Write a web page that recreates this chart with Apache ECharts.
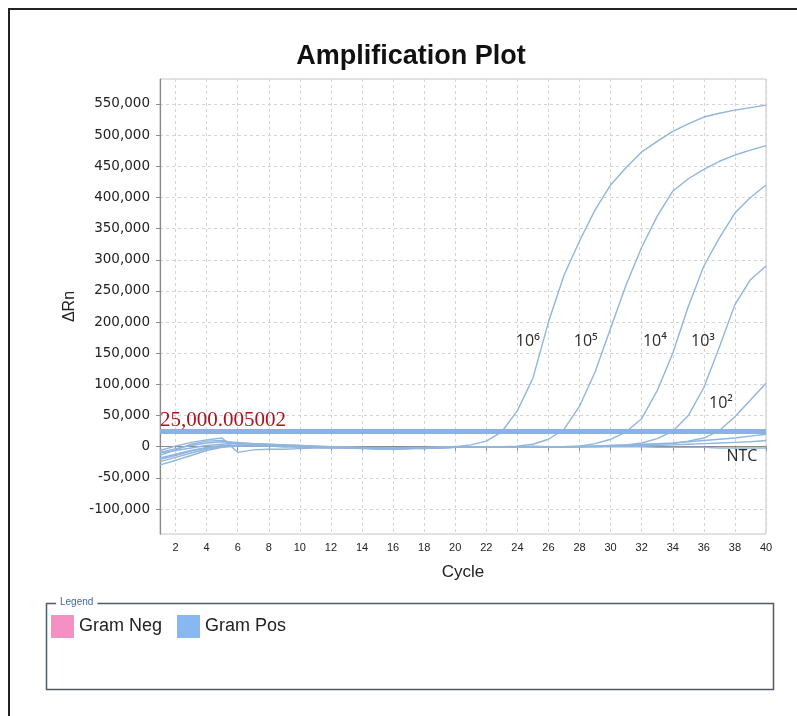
<!DOCTYPE html>
<html>
<head>
<meta charset="utf-8">
<script src="https://cdn.jsdelivr.net/npm/echarts@6/dist/echarts.min.js"></script>
<style>
  html, body { margin: 0; padding: 0; background: #fff; }
  #chart { width: 797px; height: 716px; }
</style>
</head>
<body>
<div id="chart"></div>
<script>
// Cycle numbers (x) and axis tick values
const cycles = [1,2,3,4,5,6,7,8,9,10,11,12,13,14,15,16,17,18,19,20,21,22,23,24,25,26,27,28,29,30,31,32,33,34,35,36,37,38,39,40];
const cycleTicks = [2,4,6,8,10,12,14,16,18,20,22,24,26,28,30,32,34,36,38,40];
const rnTicks = [-100000,-50000,0,50000,100000,150000,200000,250000,300000,350000,400000,450000,500000,550000];

// Delta Rn per cycle for each template dilution
const dil1e6 = [-18000,-12000,-6000,-1000,2000,3000,3000,2000,1000,0,-1000,-1000,-2000,-2000,-3000,-3000,-2000,-3000,-1000,0,3000,9000,24000,58000,110000,200000,275000,330000,380000,420000,448000,473000,490000,506000,518000,529000,535000,540000,544000,548000];
const dil1e5 = [-24000,-17000,-10000,-4000,0,2000,2000,1000,0,0,-1000,-2000,-2000,-3000,-4000,-4000,-3000,-3000,-2000,-1000,-1000,-1000,0,1000,4000,12000,28000,65000,120000,190000,260000,320000,370000,410000,430000,445000,458000,468000,476000,483000];
const dil1e4 = [-29000,-22000,-14000,-6000,-1000,1000,2000,1000,1000,0,0,-1000,-1000,-2000,-3000,-4000,-3000,-2000,-1000,-1000,0,0,0,0,0,-1000,0,1000,5000,12000,24000,45000,90000,150000,225000,290000,335000,375000,400000,420000];
const dil1e3 = [-14000,-5000,4000,9000,10000,5000,4000,3000,2000,1000,0,-1000,-1000,-2000,-2000,-3000,-3000,-2000,-2000,-1000,-1000,0,0,0,1000,0,0,1000,1000,2000,3000,6000,13000,25000,50000,95000,160000,228000,268000,290000];
const dil1e2 = [-20000,-14000,-7000,-2000,1000,2000,2000,1000,0,0,0,-1000,-1000,-2000,-2000,-3000,-3000,-2000,-2000,-1000,-1000,0,0,0,0,0,0,0,1000,1000,2000,3000,4000,5000,9000,14000,26000,48000,75000,102000];
const lateA = [-6000,1000,7000,11000,14000,-9000,-5000,-4000,-4000,-3000,-2000,-2000,-1000,-2000,-3000,-2000,-2000,-2000,-1000,0,0,0,0,0,0,0,0,0,1000,2000,3000,4000,5000,6000,8000,10000,12000,14000,17000,20000];
const lateB = [-9000,-3000,2000,6000,8000,7000,5000,4000,3000,2000,1000,0,-1000,-1000,-2000,-2000,-1000,-1000,0,0,0,0,0,0,0,0,0,0,0,1000,1000,2000,2000,3000,4000,5000,6000,7000,8000,10000];
const ntc = [-10000,-6000,-2000,2000,4000,6000,5000,4000,3000,2000,1000,0,0,-1000,-2000,-3000,-2000,-2000,-1000,0,0,0,0,0,0,0,0,0,0,0,0,0,-1000,-1000,-1000,-1000,-2000,-2000,-2000,-2000];

const threshold = 25000.005002;

const curveColor = '#90b5de';

function pairs(vals) { return cycles.map((c, i) => [c, vals[i]]); }

function fmtThreshold(v) {
  const parts = v.toFixed(6).split('.');
  return parts[0].replace(/\B(?=(\d{3})+(?!\d))/g, ',') + '.' + parts[1];
}

function curve(vals, tag, at) {
  const s = {
    name: 'Gram Pos', type: 'line', data: pairs(vals), symbol: 'none',
    lineStyle: { color: curveColor, width: 1.4 }, itemStyle: { color: curveColor },
    silent: true, z: 3
  };
  if (tag) {
    s.markPoint = {
      symbol: 'rect', symbolSize: 1, itemStyle: { color: 'rgba(0,0,0,0)' },
      data: [{ coord: at, label: { show: true, formatter: tag, position: 'inside',
        fontFamily: "'Open Sans','Noto Sans',sans-serif", fontSize: 16, color: '#2a2a2a' } }]
    };
  }
  return s;
}

const chart = echarts.init(document.getElementById('chart'), null, { renderer: 'canvas' });

const series = [
  { name: 'Gram Neg', type: 'line', data: [], itemStyle: { color: '#f590c4' } },
  curve(dil1e6, '10\u2076', [24.67, 168500]),
  curve(dil1e5, '10\u2075', [28.4, 168500]),
  curve(dil1e4, '10\u2074', [32.85, 168500]),
  curve(dil1e3, '10\u00b3', [35.94, 168500]),
  curve(dil1e2, '10\u00b2', [37.1, 69000]),
  curve(lateA),
  curve(lateB),
  curve(ntc, 'NTC', [38.45, -16000])
];

// threshold line with its value label
series[1].markLine = {
  silent: true, symbol: 'none', z: 5,
  lineStyle: { color: '#8ab3e4', width: 5, type: 'solid' },
  label: {
    show: true, position: 'insideStartTop', distance: [0, 0],
    formatter: () => fmtThreshold(threshold),
    fontFamily: "'Liberation Serif','Times New Roman',serif", fontSize: 21,
    color: '#ad1220', padding: 0
  },
  data: [{ yAxis: threshold }]
};

chart.setOption({
  animation: false,
  backgroundColor: '#fff',
  grid: { left: 160, right: 31, top: 79, bottom: 182, show: true, borderColor: '#c4c4c4', borderWidth: 1 },
  legend: {
    left: 51, top: 615, itemWidth: 23, itemHeight: 23, itemGap: 15, icon: 'rect', padding: 0,
    selectedMode: false,
    textStyle: { fontFamily: "'Liberation Sans',Arial,sans-serif", fontSize: 18, color: '#222' },
    data: [
      { name: 'Gram Neg', itemStyle: { color: '#f590c4' } },
      { name: 'Gram Pos', itemStyle: { color: '#88b8f0' } }
    ]
  },
  xAxis: {
    type: 'value', min: 1, max: 40,
    name: 'Cycle', nameLocation: 'middle', nameGap: 30,
    nameTextStyle: { fontFamily: "'Liberation Sans',Arial,sans-serif", fontSize: 17, color: '#222' },
    axisLine: { show: true, lineStyle: { color: '#8a8a8a', width: 1.2 } },
    axisTick: { show: true, customValues: cycleTicks, length: 4, lineStyle: { color: '#8a8a8a' } },
    axisLabel: { customValues: cycleTicks, margin: 8, fontFamily: "'Liberation Sans',Arial,sans-serif", fontSize: 11, color: '#222' },
    splitLine: { show: true, lineStyle: { color: '#d4d4d4', type: [3, 3], width: 1 } }
  },
  yAxis: {
    type: 'value', min: -140000, max: 590000,
    name: '\u0394Rn', nameLocation: 'middle', nameGap: 82, nameRotate: 90,
    nameTextStyle: { fontFamily: "'Liberation Sans',Arial,sans-serif", fontSize: 16, color: '#222' },
    axisLine: { show: true, lineStyle: { color: '#8a8a8a', width: 1.2 } },
    axisTick: { show: true, customValues: rnTicks, length: 4, lineStyle: { color: '#8a8a8a' } },
    axisLabel: {
      customValues: rnTicks, margin: 10, fontFamily: "'DejaVu Sans',sans-serif", fontSize: 13.5, color: '#222',
      formatter: v => v.toLocaleString('en-US')
    },
    splitLine: { show: true, lineStyle: { color: '#d4d4d4', type: [3, 3], width: 1 } }
  },
  series: series,
  graphic: [
    { type: 'text', x: 411, y: 43, style: { text: 'Amplification Plot', textAlign: 'center',
      font: "bold 27px 'Liberation Sans', Arial, sans-serif", fill: '#111' } },
    { type: 'line', shape: { x1: 8, y1: 9, x2: 797, y2: 9 }, style: { stroke: '#222', lineWidth: 2 } },
    { type: 'line', shape: { x1: 9, y1: 8, x2: 9, y2: 716 }, style: { stroke: '#222', lineWidth: 2 } },
    { type: 'rect', shape: { x: 46.5, y: 603.5, width: 727, height: 86 }, style: { fill: 'none', stroke: '#4f5a64', lineWidth: 1.5 } },
    { type: 'text', x: 56, y: 597, style: { text: 'Legend', font: "10px 'Liberation Sans', Arial, sans-serif", fill: '#4066a8',
      backgroundColor: '#fff', padding: [0, 4, 0, 4] }, z: 10 }
  ]
});
</script>
</body>
</html>
